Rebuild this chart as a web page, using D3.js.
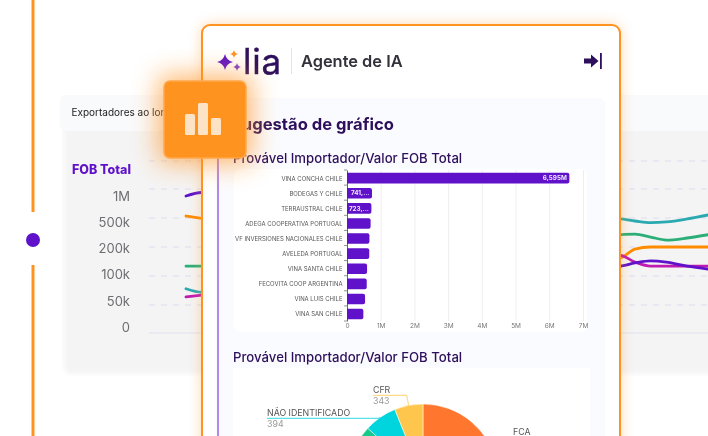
<![CDATA[<!DOCTYPE html>
<html><head><meta charset="utf-8">
<script src="https://cdn.jsdelivr.net/npm/d3@7"></script>
<style>html,body{margin:0;padding:0;background:#fff;overflow:hidden;height:436px}svg{display:block;font-family:Inter,"Open Sans",sans-serif;filter:blur(.3px)}</style>
</head><body><svg id="c" width="708" height="436"></svg><script>
// ---- data ----
const importers = ["VINA CONCHA CHILE","BODEGAS Y CHILE","TERRAUSTRAL CHILE","ADEGA COOPERATIVA PORTUGAL","VF INVERSIONES NACIONALES CHILE","AVELEDA PORTUGAL","VINA SANTA CHILE","FECOVITA COOP ARGENTINA","VINA LUIS CHILE","VINA SAN CHILE"];
const fobValues = [6595000,741000,723000,700000,665000,660000,595000,585000,535000,485000];
const barLabels = ["6,595M","741,...","723,...","","","","","","",""];
const barTicks = [0,1e6,2e6,3e6,4e6,5e6,6e6,7e6];
const pieNames = ["FCA","OUTROS","NÃO IDENTIFICADO","CFR"];
const pieValues = [3800,1063,394,343];
const pieShown = [false,false,true,true];
const lineTicks = [0,50000,100000,200000,500000,1000000,2000000];
const lineTickLabels = ["0","50k","100k","200k","500k","1M"];
const periods = [0,3,83,86,89,92,96,100];
const purpleSeries = [880000,940000,134000,145000,152000,148000,134000,124000];
const orangeSeries = [534000,495000,162000,193000,200000,200000,200000,200000];
const greenSeries = [134000,134000,327000,334000,303000,272000,293000,327000];
const tealSeries = [78000,72000,490000,469000,452000,459000,490000,552000];
const magentaSeries = [64000,67000,172000,148000,134000,134000,134000,134000];

const svg = d3.select("#c");
const defs = svg.append("defs");
const blur = (id,s)=>defs.append("filter").attr("id",id).attr("x","-50%").attr("y","-50%").attr("width","200%").attr("height","200%").append("feGaussianBlur").attr("stdDeviation",s);
blur("b2",2); blur("b8",7); blur("b12",13);
const DARK="#2d0f5c", PURPLE="#5f12c9", ORANGE="#ff9320";

// timeline
svg.append("line").attr("x1",33).attr("x2",33).attr("y1",0).attr("y2",212).attr("stroke",ORANGE).attr("stroke-width",3);
svg.append("line").attr("x1",33).attr("x2",33).attr("y1",265).attr("y2",436).attr("stroke",ORANGE).attr("stroke-width",3);
svg.append("circle").attr("cx",33).attr("cy",240).attr("r",7).attr("fill",PURPLE);

// background panel
svg.append("rect").attr("x",64).attr("y",112).attr("width",670).attr("height",262).attr("rx",8).attr("fill","#f4f4f5").attr("filter","url(#b2)");
svg.append("rect").attr("x",60).attr("y",95).attr("width",670).attr("height",36).attr("rx",6).attr("fill","#f9fafc");
svg.append("text").attr("x",71.5).attr("y",116).attr("font-size",10).attr("fill","#222").text("Exportadores ao longo do tempo");
svg.append("text").attr("x",72).attr("y",174).attr("font-size",12.5).attr("font-weight",800).attr("fill",PURPLE).text("FOB Total");

// line chart
const yL = d3.scaleLinear().domain(lineTicks).range([333,305,276,247,218,189,161]);
const xL = d3.scaleLinear().domain([0,100]).range([186,708]);
const yLab = d3.scalePoint().domain(lineTickLabels).range([327,196]);
lineTicks.forEach(t=>{
  svg.append("line").attr("x1",149).attr("x2",708).attr("y1",yL(t)).attr("y2",yL(t))
    .attr("stroke",t===0?"#e0e0ee":"#dcdcee").attr("stroke-width",1).attr("stroke-dasharray",t===0?null:"6 6");
});
lineTickLabels.forEach(l=>svg.append("text").attr("x",130).attr("y",yLab(l)+4.7).attr("text-anchor","end").attr("font-size",13).attr("fill","#6e6e72").text(l));
const lineGen = d3.line().x((d,i)=>xL(periods[i])).y(d=>yL(d)).curve(d3.curveMonotoneX);
[[tealSeries,"#2aaab0"],[greenSeries,"#2bae77"],[orangeSeries,"#ff8c00"],[magentaSeries,"#c01bb0"],[purpleSeries,PURPLE]].forEach(([s,c])=>{
  svg.append("path").attr("d",lineGen(s)).attr("fill","none").attr("stroke",c).attr("stroke-width",2.8).attr("stroke-linecap","round");
});

// card
svg.append("rect").attr("x",202).attr("y",25).attr("width",418).attr("height",430).attr("rx",8).attr("fill",ORANGE).attr("opacity",.4).attr("filter","url(#b8)");
svg.append("rect").attr("x",202).attr("y",25).attr("width",418).attr("height",430).attr("rx",8).attr("fill","#fff").attr("stroke",ORANGE).attr("stroke-width",2);

// logo
const star=(cx,cy,r,fill)=>svg.append("path").attr("transform",`translate(${cx},${cy})`).attr("fill",fill)
  .attr("d",`M0,${-r}Q${r*.18},${-r*.18} ${r},0Q${r*.18},${r*.18} 0,${r}Q${-r*.18},${r*.18} ${-r},0Q${-r*.18},${-r*.18} 0,${-r}Z`);
star(225,62,8,PURPLE); star(234,54,4,"#ff9320"); star(237,67,4,"#7c3fd0");
svg.append("text").attr("x",243).attr("y",73.5).attr("font-size",35).attr("fill",DARK).attr("stroke",DARK).attr("stroke-width",.4).attr("letter-spacing",.8).text("lia");
svg.append("line").attr("x1",291.5).attr("x2",291.5).attr("y1",48).attr("y2",74).attr("stroke","#e4e4e8");
svg.append("text").attr("x",301).attr("y",67).attr("font-size",16.4).attr("font-weight",600).attr("fill","#33313b").text("Agente de IA");
svg.append("path").attr("fill",DARK).attr("d","M584,58.5h7v-4l7.5,6.5l-7.5,6.5v-4h-7Z");
svg.append("rect").attr("x",600).attr("y",53).attr("width",1.8).attr("height",16).attr("fill",DARK);

// inner panel
svg.append("rect").attr("x",216).attr("y",98).attr("width",389).attr("height",350).attr("rx",6).attr("fill","#fafbfe");
svg.append("line").attr("x1",218).attr("x2",218).attr("y1",150).attr("y2",436).attr("stroke","#b388eb").attr("stroke-width",2);
svg.append("text").attr("x",231).attr("y",130).attr("font-size",16.6).attr("font-weight",700).attr("fill",DARK).text("Sugestão de gráfico");
svg.append("text").attr("x",233).attr("y",162.5).attr("font-size",13.2).attr("font-weight",500).attr("fill",DARK).text("Provável Importador/Valor FOB Total");
svg.append("text").attr("x",233).attr("y",362).attr("font-size",13.2).attr("font-weight",500).attr("fill",DARK).text("Provável Importador/Valor FOB Total");

// bar chart
svg.append("rect").attr("x",234).attr("y",169).attr("width",353).attr("height",163).attr("rx",6).attr("fill","#fff");
const xB = d3.scaleLinear().domain([0,7e6]).range([347,583]);
const yB = d3.scaleBand().domain(importers).range([170,321]);
const tickFmt = d=>d===0?"0":(d/1e6)+"M";
const gx = svg.append("g").attr("transform","translate(0,321)").call(d3.axisBottom(xB).tickValues(barTicks).tickFormat(tickFmt).tickSize(-151));
gx.select(".domain").remove();
gx.selectAll(".tick line").attr("stroke","#eeeef2");
gx.selectAll(".tick text").attr("font-size",6.5).attr("fill","#777").attr("font-family","Inter").attr("dy",4);
const gy = svg.append("g").attr("transform","translate(347,0)").call(d3.axisLeft(yB).tickSize(0).tickPadding(4.5));
gy.select(".domain").attr("stroke","#666");
gy.selectAll(".tick text").attr("font-size",5.95).attr("fill","#555").attr("font-family","Inter").attr("dy","0.5em");
svg.append("g").selectAll("line").data(d3.range(11)).join("line")
  .attr("x1",344).attr("x2",347).attr("y1",i=>170+i*yB.step()).attr("y2",i=>170+i*yB.step()).attr("stroke","#666").attr("stroke-width",.7);
svg.append("g").selectAll("path").data(importers).join("path").attr("fill",PURPLE).attr("d",(d,i)=>{
  const x0=xB(0),x1=xB(fobValues[i]),h=10.6,y=yB(d)+(yB.step()-h)/2+.6,r=2;
  return `M${x0},${y}H${x1-r}Q${x1},${y} ${x1},${y+r}V${y+h-r}Q${x1},${y+h} ${x1-r},${y+h}H${x0}Z`;
});
svg.append("g").selectAll("text").data(importers).join("text").attr("x",(d,i)=>xB(fobValues[i])-2.5).attr("y",d=>yB(d)+yB.step()/2+2.8)
  .attr("text-anchor","end").attr("font-size",6.3).attr("font-weight",700).attr("fill","#f1e9fb").text((d,i)=>barLabels[i]);

// pie
svg.append("rect").attr("x",233).attr("y",368).attr("width",357).attr("height",80).attr("fill","#fff");
const pieColors = ["#ff772e","#17c98a","#00d4dc","#ffc64d"];
const pieData = d3.pie().sort(null)(pieValues);
const arc = d3.arc().innerRadius(0).outerRadius(75);
const leader = d3.arc().innerRadius(75).outerRadius(75);
const gp = svg.append("g").attr("transform","translate(423,479)");
gp.selectAll("path").data(pieData).join("path").attr("d",arc).attr("fill",(d,i)=>pieColors[i]).attr("stroke","#fff").attr("stroke-width",.5);
pieData.forEach((d,i)=>{
  if(!pieShown[i]) return;
  const [cx,cy]=leader.centroid(d);
  const isCfr = pieNames[i]==="CFR";
  const elbowY = isCfr ? cy-10 : cy+1;
  const endX = isCfr ? -50 : -156;
  gp.append("path").attr("fill","none").attr("stroke",pieColors[i]).attr("stroke-opacity",.65).attr("stroke-width",1.2)
    .attr("d",`M${cx},${cy}L${cx-2},${elbowY}L${endX},${elbowY}`);
  gp.append("text").attr("x",endX).attr("y",elbowY-2.5).attr("font-size",8.8).attr("fill","#555").text(pieNames[i]);
  gp.append("text").attr("x",endX).attr("y",elbowY+9).attr("font-size",8.8).attr("fill","#999").text(pieValues[i]);
});
gp.append("text").attr("x",90).attr("y",-44).attr("font-size",8.8).attr("fill","#555").text(pieNames[0]);

// floating icon
svg.append("rect").attr("x",158).attr("y",75).attr("width",94).attr("height",89).attr("rx",8).attr("fill",ORANGE).attr("opacity",.65).attr("filter","url(#b12)");
svg.append("rect").attr("x",164).attr("y",81).attr("width",82).attr("height",77).attr("rx",6).attr("fill",ORANGE).attr("stroke","#ffa94d").attr("stroke-width",1.5);
[[185,114,10,21],[198,103,10,32],[211,118,10,17]].forEach(b=>svg.append("rect").attr("x",b[0]).attr("y",b[1]).attr("width",b[2]).attr("height",b[3]).attr("rx",1.5).attr("fill","#fde3c6"));
</script></body></html>]]>
